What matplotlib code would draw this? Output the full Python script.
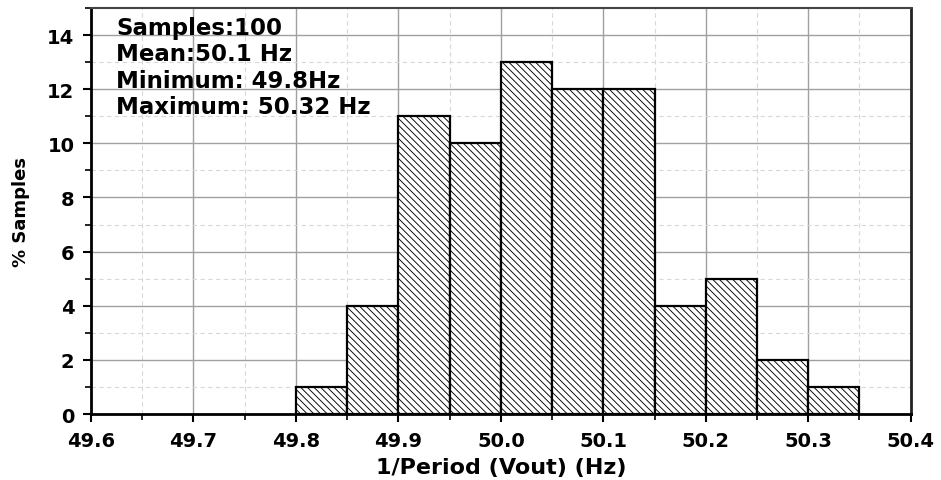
import matplotlib
matplotlib.use("Agg")
import matplotlib.pyplot as plt
from matplotlib.ticker import MultipleLocator

# ---- data ----
bin_left = [49.80, 49.85, 49.90, 49.95, 50.00, 50.05, 50.10, 50.15, 50.20, 50.25, 50.30]
bin_width = 0.05
percent_samples = [1, 4, 11, 10, 13, 12, 12, 4, 5, 2, 1]
stats_lines = ["Samples:100", "Mean:50.1 Hz", "Minimum: 49.8Hz", "Maximum: 50.32 Hz"]
x_label = "1/Period (Vout) (Hz)"
y_label = "% Samples"

plt.rcParams['font.family'] = ['DejaVu Sans']
plt.rcParams['hatch.linewidth'] = 0.65
plt.rcParams['hatch.color'] = '#333333'

fig = plt.figure(figsize=(9.41, 4.81), dpi=100)
ax = fig.add_axes([0.0967, 0.1372, 0.8711, 0.8441])

ax.set_xlim(49.6, 50.4)
ax.set_ylim(0, 15)

ax.xaxis.set_major_locator(MultipleLocator(0.1))
ax.xaxis.set_minor_locator(MultipleLocator(0.05))
ax.yaxis.set_major_locator(MultipleLocator(2))
ax.yaxis.set_minor_locator(MultipleLocator(1))

ax.grid(which='major', color='#a0a0a0', linewidth=1.0, linestyle='-', zorder=0)
ax.grid(which='minor', color='#d8d8d8', linewidth=0.8, linestyle=(0, (4, 3)), zorder=0)
ax.set_axisbelow(True)

ax.bar(bin_left, percent_samples, width=bin_width, align='edge',
       facecolor='white', edgecolor='black', linewidth=1.6,
       hatch='\\' * 5, zorder=3)

ax.set_xticks(ax.get_xticks())
ax.set_xticklabels([f"{v:.1f}" for v in ax.get_xticks()])
ax.set_xlim(49.6, 50.4)

ax.tick_params(axis='both', which='major', direction='out', length=6, width=1.5,
               labelsize=14, pad=6)
ax.tick_params(axis='both', which='minor', direction='out', length=4, width=1.2)
for lab in ax.get_xticklabels() + ax.get_yticklabels():
    lab.set_fontweight('bold')

ax.spines['left'].set_linewidth(2.0)
ax.spines['bottom'].set_linewidth(2.0)
ax.spines['left'].set_color('black')
ax.spines['bottom'].set_color('black')
ax.spines['top'].set_linewidth(1.5)
ax.spines['top'].set_color('#444444')
ax.spines['right'].set_linewidth(2.0)
ax.spines['right'].set_color('#222222')

ax.set_xlabel(x_label, fontsize=16, fontweight='bold', labelpad=5)
ax.set_ylabel(y_label, fontsize=13, fontweight='bold', labelpad=12)

baselines_px = [35, 61.5, 88, 114.5]
ax_top_px, ax_h_px = 9, 406
for txt, bpx in zip(stats_lines, baselines_px):
    ax.text(0.0305, 1 - (bpx - ax_top_px) / ax_h_px, txt, transform=ax.transAxes,
            fontsize=16.5, fontweight='bold', va='baseline', ha='left', zorder=5)

fig.savefig("out.png", dpi=100)
